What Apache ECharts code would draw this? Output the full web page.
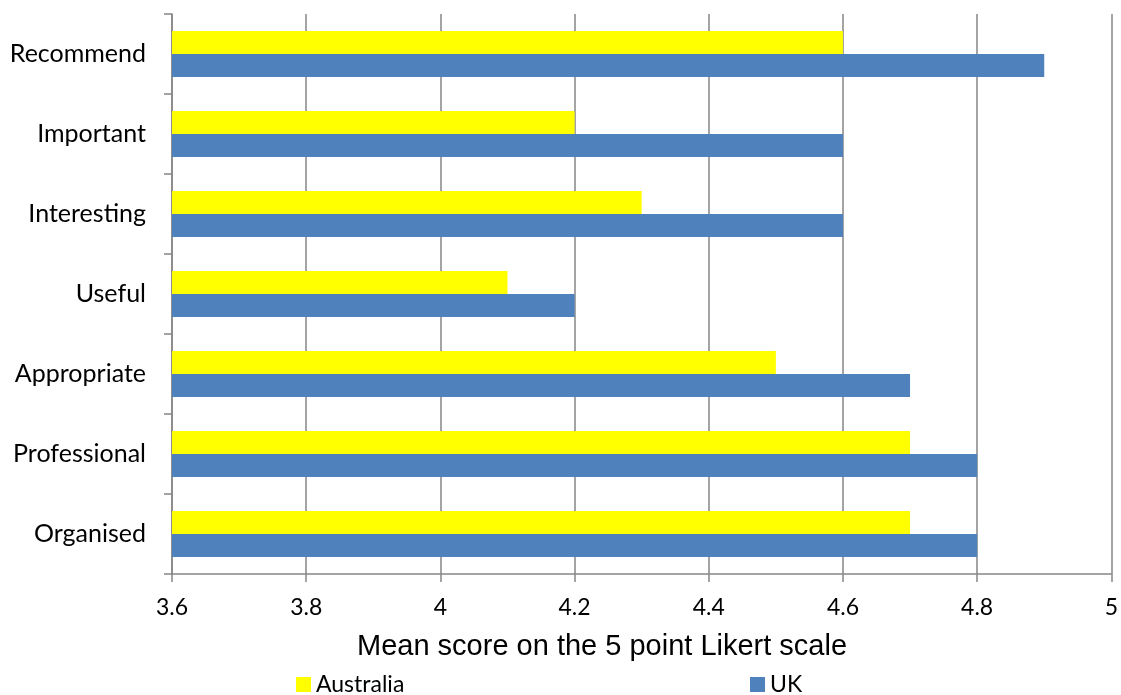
<!DOCTYPE html>
<html>
<head>
<meta charset="utf-8">
<script src="https://cdn.jsdelivr.net/npm/echarts@6/dist/echarts.min.js"></script>
<style>
  html, body { margin: 0; padding: 0; background: #fff; }
  #chart { width: 1121px; height: 695px; }
</style>
</head>
<body>
<div id="chart"></div>
<script>
// Survey items, bottom to top on the category axis
const categories = ['Organised', 'Professional', 'Appropriate', 'Useful', 'Interesting', 'Important', 'Recommend'];
// Mean score per item
const australia = [4.7, 4.7, 4.5, 4.1, 4.3, 4.2, 4.6];
const uk = [4.8, 4.8, 4.7, 4.2, 4.6, 4.6, 4.9];
const xTicks = { min: 3.6, max: 5, step: 0.2 };

const gridColor = '#868686';
const labelFont = 'Lato, "Open Sans", sans-serif';

const chart = echarts.init(document.getElementById('chart'));
chart.setOption({
  animation: false,
  grid: { left: 172, right: 9, top: 14, bottom: 121, containLabel: false },
  xAxis: {
    type: 'value',
    min: xTicks.min,
    max: xTicks.max,
    interval: xTicks.step,
    axisLine: { show: true, lineStyle: { color: gridColor, width: 1.5 } },
    axisTick: { show: true, length: 8, lineStyle: { color: gridColor, width: 1.5 } },
    splitLine: { show: true, lineStyle: { color: gridColor, width: 1.5 } },
    axisLabel: {
      margin: 22,
      color: '#000',
      fontFamily: labelFont,
      fontSize: 23,
      formatter: v => String(Math.round(v * 10) / 10)
    }
  },
  yAxis: {
    type: 'category',
    data: categories,
    axisLine: { show: true, lineStyle: { color: gridColor, width: 1.5 } },
    axisTick: { show: true, length: 8, lineStyle: { color: gridColor, width: 1.5 } },
    axisLabel: {
      margin: 26,
      color: '#000',
      fontFamily: labelFont,
      fontSize: 25
    }
  },
  legend: [
    {
      data: ['Australia'],
      left: 296, top: 673, padding: 0,
      icon: 'rect', itemWidth: 15, itemHeight: 15, itemGap: 0,
      textStyle: { color: '#000', fontFamily: labelFont, fontSize: 23 }
    },
    {
      data: ['UK'],
      left: 750, top: 673, padding: 0,
      icon: 'rect', itemWidth: 15, itemHeight: 15, itemGap: 0,
      textStyle: { color: '#000', fontFamily: labelFont, fontSize: 23 }
    }
  ],
  graphic: [
    {
      type: 'text',
      left: 357, top: 632,
      style: {
        text: 'Mean score on the 5 point Likert scale',
        fill: '#000',
        font: '29px "Liberation Sans", Arial, sans-serif'
      }
    }
  ],
  series: [
    {
      name: 'Australia',
      type: 'bar',
      data: australia,
      barWidth: 23,
      barGap: '0%',
      itemStyle: { color: '#FFFF00' }
    },
    {
      name: 'UK',
      type: 'bar',
      data: uk,
      barWidth: 23,
      barGap: '0%',
      itemStyle: { color: '#4F81BD' }
    }
  ]
});
</script>
</body>
</html>
